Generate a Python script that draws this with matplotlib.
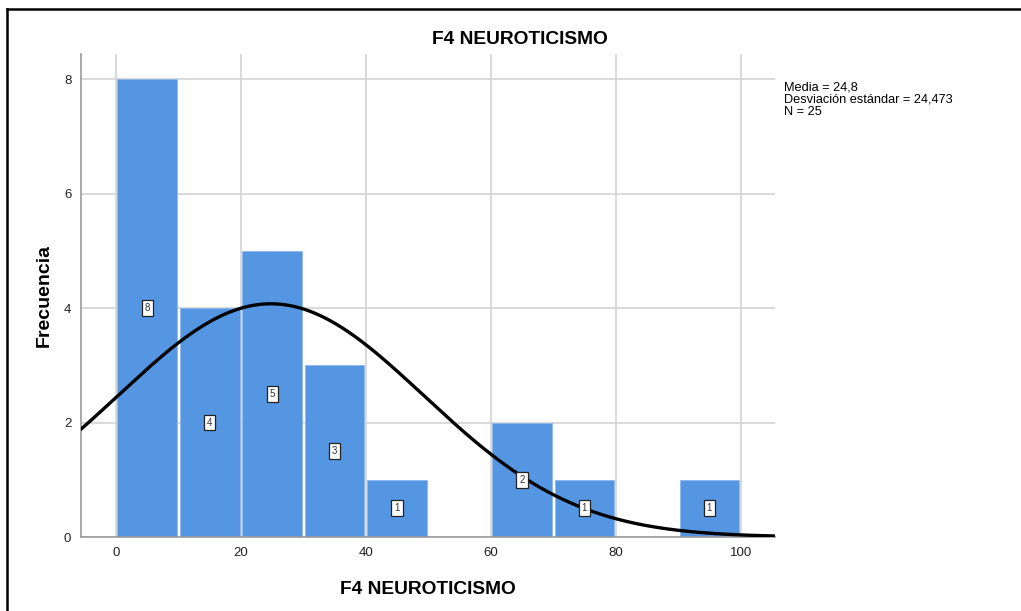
import numpy as np
import matplotlib.pyplot as plt
from matplotlib.lines import Line2D

# datos del histograma (ancho de clase 10)
bin_left = [0, 10, 20, 30, 40, 50, 60, 70, 80, 90]
counts = [8, 4, 5, 3, 1, 0, 2, 1, 0, 1]
media = 24.8
desv = 24.473
n_total = 25
bin_width = 10

titulo = "F4 NEUROTICISMO"
stats_text = "Media = 24,8\nDesviación estándar = 24,473\nN = 25"

plt.rcParams['font.family'] = ['Liberation Sans', 'DejaVu Sans']

fig = plt.figure(figsize=(10.21, 6.11), dpi=100)
ax = fig.add_axes([81 / 1021, 1 - 537 / 611, (775 - 81) / 1021, (537 - 54) / 611])

# barras
centers = [b + bin_width / 2 for b in bin_left]
for c, h in zip(centers, counts):
    if h == 0:
        continue
    ax.bar(c, h, width=bin_width - 0.45, color='#5596e3', edgecolor='#8fb8ee',
           linewidth=0.6, zorder=2)

# curva normal
xs = np.linspace(-6, 106, 400)
ys = n_total * bin_width / (desv * np.sqrt(2 * np.pi)) * np.exp(-0.5 * ((xs - media) / desv) ** 2)
ax.plot(xs, ys, color='black', linewidth=2.4, zorder=3, solid_capstyle='butt')

# etiquetas de frecuencia
for c, h in zip(centers, counts):
    if h == 0:
        continue
    ax.text(c, h / 2, str(h), ha='center', va='center', fontsize=7, color='#333333',
            zorder=4, bbox=dict(boxstyle='square,pad=0.3', facecolor='white',
                                edgecolor='#222222', linewidth=0.9))

ax.set_xlim(-5.6, 105.5)
ax.set_ylim(0, 8.44)
ax.set_xticks([0, 20, 40, 60, 80, 100])
ax.set_yticks([0, 2, 4, 6, 8])
ax.grid(True, color='#d3d3d3', linewidth=1.2, zorder=0)
ax.set_axisbelow(True)
ax.tick_params(length=0, labelsize=9.5, colors='#222222', pad=7)
for s in ['top', 'right']:
    ax.spines[s].set_visible(False)
for s in ['left', 'bottom']:
    ax.spines[s].set_color('#9a9a9a')
    ax.spines[s].set_linewidth(1.2)

ax.set_xlabel(titulo, fontsize=13.8, fontweight='bold', labelpad=16)
ax.set_ylabel("Frecuencia", fontsize=14, fontweight='bold', labelpad=8)

fig.text(520 / 1021, 1 - 39 / 611, titulo, ha='center', va='center',
         fontsize=13.8, fontweight='bold')
fig.text(784 / 1021, 1 - 82 / 611, stats_text, ha='left', va='top',
         fontsize=9.2, linespacing=1.0)

# marco exterior (solo arriba e izquierda)
fig.add_artist(Line2D([7 / 1021, 7 / 1021], [0, 1 - 9 / 611], color='black', linewidth=1.8,
                      transform=fig.transFigure))
fig.add_artist(Line2D([7 / 1021, 1], [1 - 9 / 611, 1 - 9 / 611], color='black', linewidth=1.8,
                      transform=fig.transFigure))

fig.savefig('out.png', dpi=100)
